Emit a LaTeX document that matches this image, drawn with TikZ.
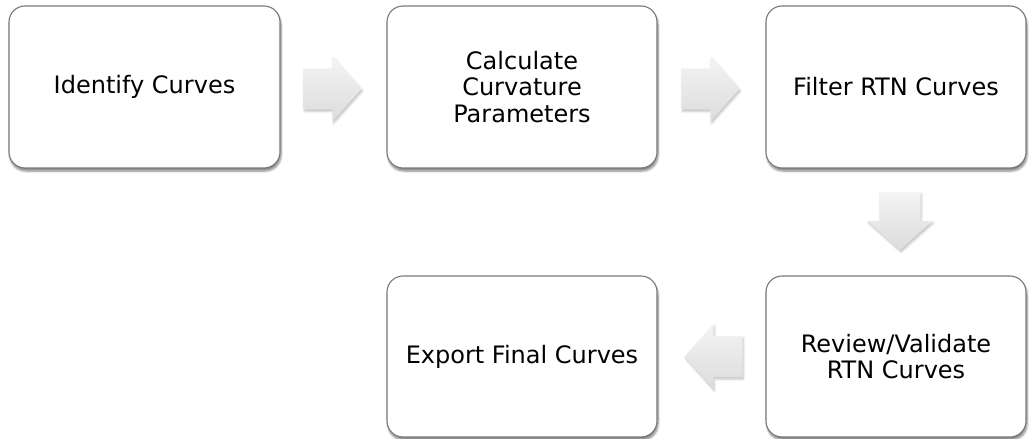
\documentclass[tikz,border=0pt]{standalone}
\usepackage{fontspec}
\setmainfont{DejaVu Sans}
\usetikzlibrary{shadows.blur,calc}
\definecolor{boxline}{RGB}{120,120,120}
\definecolor{arrtop}{RGB}{244,244,244}
\definecolor{arrbot}{RGB}{220,220,220}
\tikzset{
  stepbox/.style={draw=boxline, line width=1.1pt, fill=white, rounded corners=16pt,
    inner sep=0pt, align=center, font=\fontsize{24}{26.3}\selectfont,
    blur shadow={shadow xshift=1pt, shadow yshift=-3pt, shadow blur steps=6, shadow opacity=50}},
  blockarrow/.style={draw=none, top color=arrtop, bottom color=arrbot,
    blur shadow={shadow xshift=1pt, shadow yshift=-2pt, shadow blur steps=4, shadow opacity=25}},
  pics/barrow/.style={code={
    \path[blockarrow] (-29,-20.5) -- (0,-20.5) -- (0,-32.5) -- (29,0) -- (0,32.5)
      -- (0,20.5) -- (-29,20.5) -- cycle;}}
}
\begin{document}
\begin{tikzpicture}[x=1pt,y=-1pt]
\useasboundingbox (0,0) rectangle (1029,439);
\node[stepbox, minimum width=271pt, minimum height=162pt] (b1) at (144.5,87) {Identify Curves};
\node[stepbox, minimum width=270pt, minimum height=162pt] (b2) at (522,87) {Calculate\\Curvature\\Parameters};
\node[stepbox, minimum width=260pt, minimum height=162pt] (b3) at (896,87) {Filter RTN Curves};
\node[stepbox, minimum width=260pt, minimum height=161pt] (b4) at (896,356.5) {Review/Validate\\RTN Curves};
\node[stepbox, minimum width=270pt, minimum height=161pt] (b5) at (522,356.5) {Export Final Curves};
\coordinate (a1) at ($(b1.east)!0.5!(b2.west)+(-1,2)$);
\coordinate (a2) at ($(b2.east)!0.5!(b3.west)+(-1,2)$);
\coordinate (a3) at ($(b3.south)!0.5!(b4.north)+(4,-1)$);
\coordinate (a4) at ($(b4.west)!0.5!(b5.east)+(2,0)$);
\pic at (a1) {barrow};
\pic at (a2) {barrow};
\pic[rotate=-90] at (a3) {barrow};
\pic[rotate=180] at (a4) {barrow};
\end{tikzpicture}
\end{document}
